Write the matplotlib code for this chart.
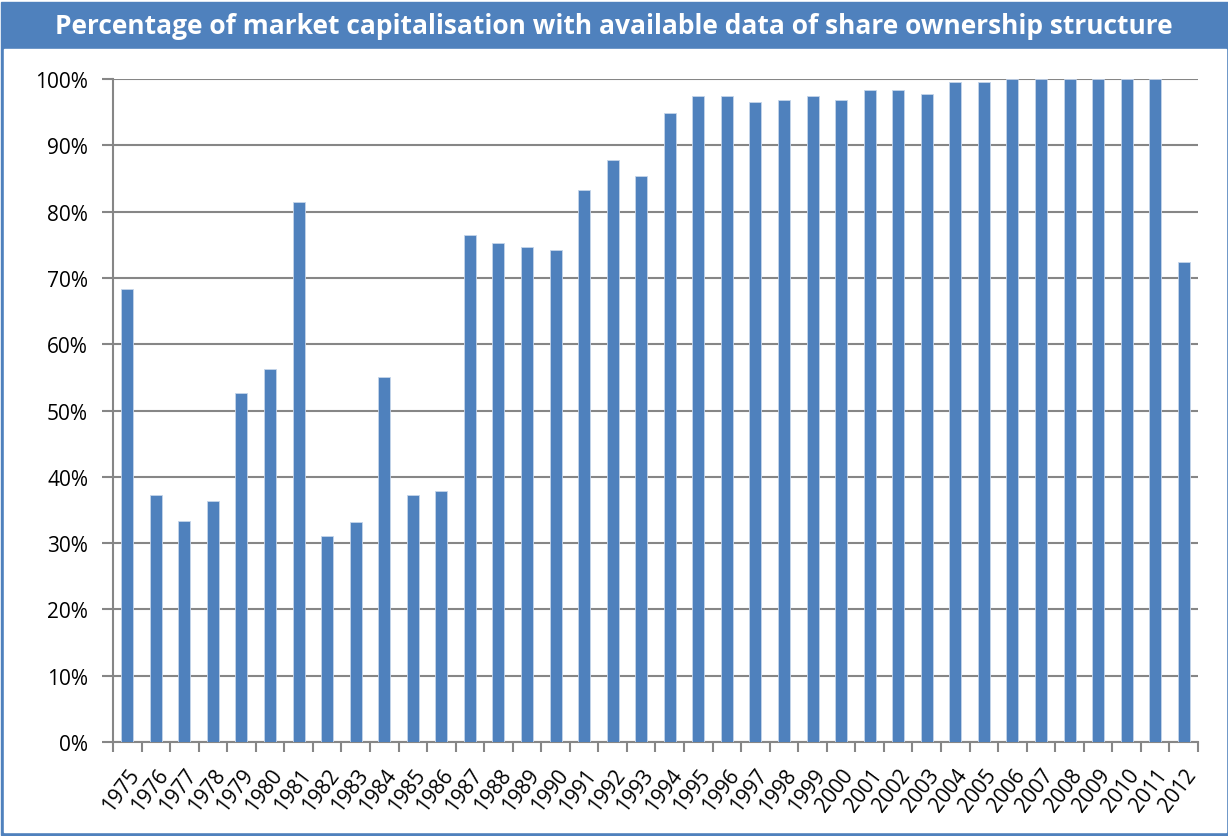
import matplotlib.pyplot as plt
from matplotlib.patches import Rectangle
from matplotlib.ticker import FuncFormatter, MultipleLocator
import numpy as np

years = list(range(1975, 2013))
share = [68.4, 37.3, 33.3, 36.3, 52.7, 56.2, 81.4, 31.0, 33.2, 55.0,
         37.3, 37.9, 76.5, 75.2, 74.6, 74.2, 83.2, 87.8, 85.3, 94.9,
         97.4, 97.5, 96.6, 96.8, 97.4, 96.8, 98.3, 98.3, 97.8, 99.5,
         99.5, 100, 100, 100, 100, 100, 100, 72.4]
title = "Percentage of market capitalisation with available data of share ownership structure"

W, H = 1228, 837
blue = "#4F81BD"
grid = "#868686"

plt.rcParams["font.family"] = ["Open Sans", "DejaVu Sans"]
fig = plt.figure(figsize=(W / 100, H / 100), dpi=100, facecolor="white")


def px(x0, y0, x1, y1):
    # pixel box (top-left origin) -> figure fraction rectangle
    return (x0 / W, 1 - y1 / H), (x1 - x0) / W, (y1 - y0) / H


xy, w, h = px(0.5, 3, 1227.5, 835.5)
fig.add_artist(Rectangle(xy, w, h, transform=fig.transFigure, color=blue, zorder=0))
xy, w, h = px(3.5, 50, 1225.5, 833)
fig.add_artist(Rectangle(xy, w, h, transform=fig.transFigure, color="white", zorder=0))
fig.text(614 / W, 1 - 27 / H, title, color="white", fontsize=19, fontweight="bold",
         ha="center", va="center")

x0, x1, ytop, ybot = 113, 1198, 80, 743
ax = fig.add_axes([x0 / W, 1 - ybot / H, (x1 - x0) / W, (ybot - ytop) / H])
ax.set_facecolor("none")

x = np.arange(len(years))
ax.bar(x, share, width=0.42, color=blue, edgecolor="#C5D5EA", linewidth=0.6, zorder=3)

ax.set_xlim(-0.5, len(years) - 0.5)
ax.set_ylim(0, 100)
ax.yaxis.set_major_locator(MultipleLocator(10))
ax.yaxis.set_major_formatter(FuncFormatter(lambda v, p: f"{int(v)}%"))
ax.grid(axis="y", color=grid, linewidth=1.5, zorder=0)

for s in ["top", "right"]:
    ax.spines[s].set_visible(False)
for s in ["left", "bottom"]:
    ax.spines[s].set_color(grid)
    ax.spines[s].set_linewidth(1.5)

ax.set_xticks(x)
ax.set_xticklabels([str(y) for y in years], rotation=53, ha="right", va="top",
                   rotation_mode="anchor", fontsize=15)
ax.set_xticks(np.arange(len(years) + 1) - 0.5, minor=True)
ax.tick_params(axis="x", which="major", length=0, pad=16)
ax.tick_params(axis="x", which="minor", length=7, width=1.5, color=grid)
ax.tick_params(axis="y", length=8, width=1.5, color=grid, labelsize=15, pad=10)

fig.savefig("out.png", dpi=100)
